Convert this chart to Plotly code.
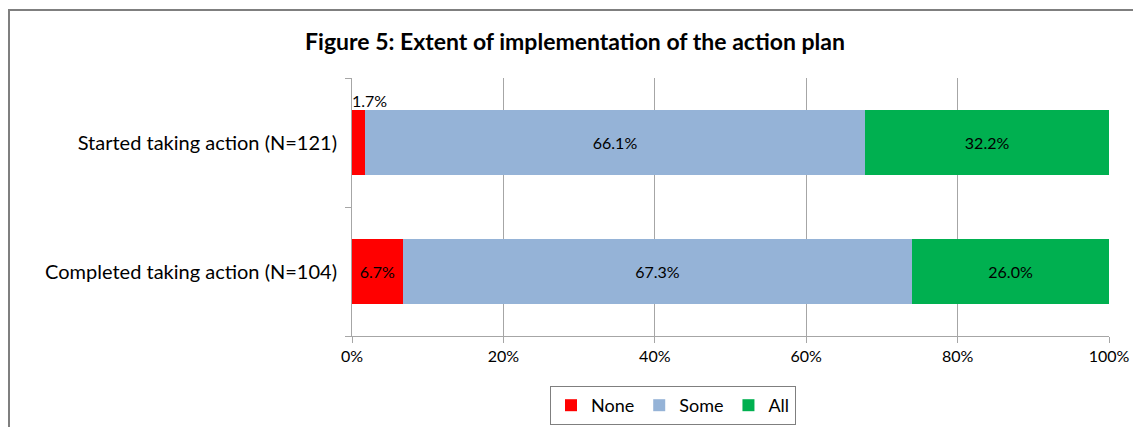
import plotly.graph_objects as go

categories = ["Completed taking action (N=104)", "Started taking action (N=121)"]
none_vals = [6.7, 1.7]
some_vals = [67.3, 66.1]
all_vals = [26.0, 32.2]
series_names = ["None", "Some", "All"]
colors = ["#FF0000", "#95B3D7", "#00B050"]
tick_vals = [0, 20, 40, 60, 80, 100]
tick_text = ["0%", "20%", "40%", "60%", "80%", "100%"]

W, H = 1133, 427
ML, MR, MT, MB = 352, 24, 78, 91
PW, PH = W - ML - MR, H - MT - MB

font_family = "Lato, 'Open Sans', sans-serif"
label_size = 16

fig = go.Figure()

none_text = [f"{v:.1f}%" if v >= 5 else "" for v in none_vals]
fig.add_trace(go.Bar(
    y=categories, x=none_vals, name=series_names[0], orientation="h",
    marker=dict(color=colors[0], line=dict(width=0)),
    text=none_text, textposition="inside", insidetextanchor="middle",
    textfont=dict(color="#000000", size=label_size, family=font_family),
    hoverinfo="skip",
))
fig.add_trace(go.Bar(
    y=categories, x=some_vals, name=series_names[1], orientation="h",
    marker=dict(color=colors[1], line=dict(width=0)),
    text=[f"{v:.1f}%" for v in some_vals], textposition="inside", insidetextanchor="middle",
    textfont=dict(color="#000000", size=label_size, family=font_family),
    hoverinfo="skip",
))
fig.add_trace(go.Bar(
    y=categories, x=all_vals, name=series_names[2], orientation="h",
    marker=dict(color=colors[2], line=dict(width=0)),
    text=[f"{v:.1f}%" for v in all_vals], textposition="inside", insidetextanchor="middle",
    textfont=dict(color="#000000", size=label_size, family=font_family),
    hoverinfo="skip",
))

for cat, v in zip(categories, none_vals):
    if v < 5:
        fig.add_annotation(x=0, y=cat, text=f"{v:.1f}%", showarrow=False,
                           xanchor="left", yanchor="bottom", yshift=31, xshift=-2,
                           font=dict(color="#000000", size=label_size, family=font_family))

def px_to_paper_x(px):
    return (px - ML) / PW

def px_to_paper_y(py):
    return (H - MB - py) / PH

frame_color = "#7f7f7f"
fig.add_shape(type="line", xref="paper", yref="paper",
              x0=px_to_paper_x(8), x1=px_to_paper_x(1140),
              y0=px_to_paper_y(10), y1=px_to_paper_y(10),
              line=dict(color=frame_color, width=2))
fig.add_shape(type="line", xref="paper", yref="paper",
              x0=px_to_paper_x(9), x1=px_to_paper_x(9),
              y0=px_to_paper_y(10), y1=px_to_paper_y(440),
              line=dict(color=frame_color, width=2))

fig.update_layout(
    width=W, height=H,
    margin=dict(l=ML, r=MR, t=MT, b=MB, autoexpand=False),
    barmode="stack", bargap=0.5,
    plot_bgcolor="#ffffff", paper_bgcolor="#ffffff",
    font=dict(family=font_family, color="#000000"),
    title=dict(text="<b>Figure 5: Extent of implementation of the action plan</b>",
               x=575 / W, xanchor="center",
               y=1 - 42 / H, yanchor="middle",
               font=dict(size=23, color="#000000", family=font_family)),
    xaxis=dict(range=[0, 100], tickvals=tick_vals, ticktext=tick_text,
               showgrid=True, gridcolor="#a6a6a6", gridwidth=1,
               showline=True, linecolor="#a6a6a6", linewidth=1,
               ticks="outside", ticklen=6, tickcolor="#a6a6a6",
               tickfont=dict(size=16, color="#000000"), zeroline=False,
               automargin=False),
    yaxis=dict(showline=True, linecolor="#a6a6a6", linewidth=1,
               ticks="outside", ticklen=6, tickcolor="#a6a6a6",
               tickson="boundaries", showgrid=False,
               tickfont=dict(size=20, color="#000000"),
               range=[-0.5, 1.5], ticklabelstandoff=10,
               automargin=False),
    legend=dict(orientation="h", x=px_to_paper_x(673), xanchor="center",
                y=px_to_paper_y(386), yanchor="top",
                bordercolor="#7f7f7f", borderwidth=1,
                font=dict(size=18, color="#000000"),
                itemwidth=30, traceorder="normal", tracegroupgap=0),
    showlegend=True,
)

fig.write_html("out.html", config={"displayModeBar": False},
               post_script="document.body.style.margin='0';document.body.style.overflow='hidden';")
